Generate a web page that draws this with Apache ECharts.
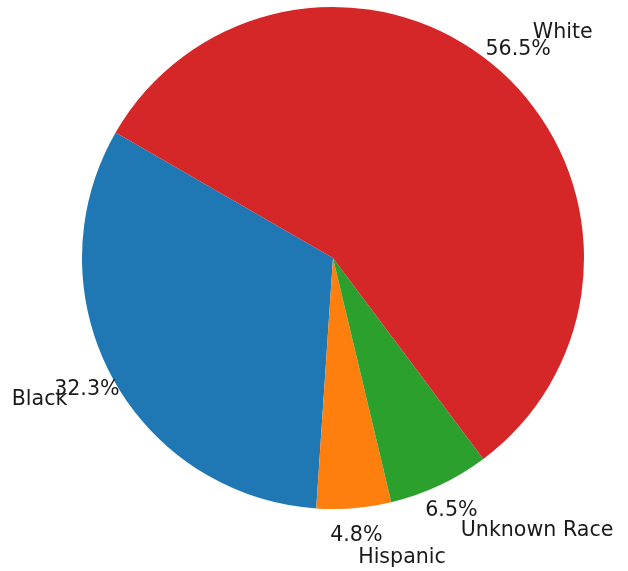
<!DOCTYPE html>
<html>
<head>
<meta charset="utf-8">
<script src="https://cdn.jsdelivr.net/npm/echarts@6/dist/echarts.min.js"></script>
<style>html,body{margin:0;padding:0;background:#fff;}#c{width:628px;height:571px;}</style>
</head>
<body>
<div id="c"></div>
<script>
const categories = ['Black', 'Hispanic', 'Unknown Race', 'White'];
const values = [32.3, 4.8, 6.5, 56.5];
const colors = ['#1f77b4', '#ff7f0e', '#2ca02c', '#d62728'];

const R = 251;
const center = [333, 258];
const font = { fontFamily: 'DejaVu Sans', fontSize: 20.6, color: '#1a1a1a', padding: [4, 0, 0, 0] };

const data = categories.map((c, i) => ({ name: c, value: values[i], itemStyle: { color: colors[i] } }));
const ghost = categories.map((c, i) => ({ name: c, value: values[i] }));

const chart = echarts.init(document.getElementById('c'), null, { renderer: 'canvas' });
chart.setOption({
  animation: false,
  series: [
    {
      type: 'pie',
      center: center,
      radius: [0, R],
      startAngle: 150,
      clockwise: false,
      avoidLabelOverlap: false,
      silent: true,
      data: data,
      itemStyle: { borderWidth: 0 },
      label: Object.assign({ show: true, position: 'outside', formatter: '{b}', distanceToLabelLine: 0, minMargin: 0 }, font),
      labelLine: { show: false, length: 50, length2: 0 },
      labelLayout: { hideOverlap: false, moveOverlap: null },
      emphasis: { disabled: true }
    },
    {
      type: 'pie',
      center: center,
      radius: [R, R + 50],
      startAngle: 150,
      clockwise: false,
      avoidLabelOverlap: false,
      silent: true,
      data: ghost,
      itemStyle: { color: 'rgba(0,0,0,0)', borderWidth: 0 },
      label: Object.assign({ show: true, position: 'inside', rotate: 0, formatter: p => p.value.toFixed(1) + '%' }, font),
      labelLine: { show: false },
      labelLayout: { hideOverlap: false, moveOverlap: null },
      emphasis: { disabled: true }
    }
  ]
});
</script>
</body>
</html>
